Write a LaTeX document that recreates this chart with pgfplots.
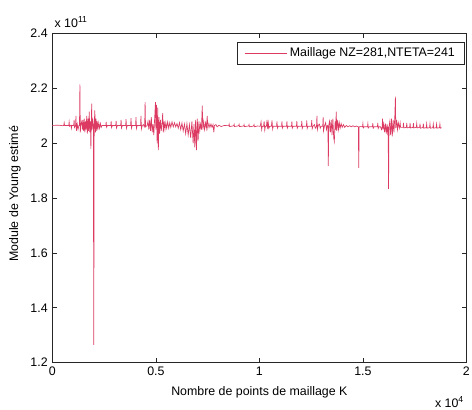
\documentclass[border=0pt]{standalone}
\usepackage{pgfplots}
\pgfplotsset{compat=1.18}
\usepackage{fontspec}
\setmainfont{Liberation Sans}
\definecolor{lc}{RGB}{220,58,98}
\newcommand{\fs}{\fontsize{9.4}{11}\selectfont}
\begin{document}
\begin{tikzpicture}[x=1pt,y=1pt]
\begin{axis}[name=ax, at={(0,0)}, anchor=south west, scale only axis,
  width=314.25pt, height=249.75pt,
  xmin=0, xmax=2, ymin=1.2, ymax=2.4,
  xtick={0,0.5,1,1.5,2}, ytick={1.2,1.4,1.6,1.8,2,2.2,2.4},
  tick align=inside, major tick length=3.5pt,
  axis line style={black!85, line width=0.6pt},
  every tick/.style={black!85, line width=0.5pt},
  tick label style={font=\fs},
  /pgf/number format/assume math mode=true,
  xlabel={Nombre de points de maillage K},
  ylabel={Module de Young estimé},
  every axis x label/.style={at={(axis description cs:0.5,-0.09)}, anchor=center, font=\fs},
  every axis y label/.style={at={(axis description cs:-0.0907,0.513)}, rotate=90, anchor=center, font=\fs},
  legend style={at={(axis description cs:1,1)}, anchor=north east, xshift=-1.5pt, yshift=-6pt,
    draw=black!85, line width=0.5pt, font=\fs, inner xsep=5pt, inner ysep=2.5pt},
  legend image code/.code={\draw[#1, draw=lc, line width=0.6pt] (0pt,0pt) -- (32pt,0pt);},
  clip=true,
]
\addplot[lc, line width=0.5pt] table {
0.000 2.065
0.030 2.066
0.050 2.064
0.055 2.065
0.057 2.075
0.059 2.065
0.079 2.065
0.081 2.078
0.083 2.062
0.090 2.066
0.092 2.055
0.094 2.065
0.103 2.065
0.105 2.085
0.107 2.058
0.112 2.065
0.114 2.100
0.116 2.045
0.120 2.070
0.124 2.050
0.128 2.065
0.131 2.065
0.133 2.215
0.135 2.040
0.137 2.065
0.142 2.080
0.145 2.050
0.148 2.085
0.151 2.045
0.154 2.090
0.157 2.040
0.160 2.080
0.163 2.050
0.166 2.100
0.169 2.035
0.172 2.090
0.175 2.045
0.178 2.115
0.181 2.040
0.184 2.080
0.186 1.980
0.188 2.070
0.190 2.145
0.192 2.050
0.195 2.090
0.198 2.060
0.200 1.265
0.202 2.060
0.205 2.120
0.208 2.040
0.211 2.090
0.214 2.045
0.217 2.080
0.220 2.050
0.224 2.075
0.228 2.055
0.232 2.072
0.236 2.058
0.240 2.065
0.258 2.065
0.260 2.078
0.262 2.058
0.266 2.065
0.282 2.065
0.284 2.080
0.286 2.057
0.290 2.065
0.306 2.065
0.308 2.082
0.310 2.056
0.314 2.065
0.330 2.065
0.332 2.085
0.334 2.056
0.338 2.065
0.354 2.065
0.356 2.088
0.358 2.055
0.362 2.065
0.378 2.065
0.380 2.092
0.382 2.055
0.386 2.065
0.402 2.065
0.404 2.095
0.406 2.054
0.410 2.065
0.426 2.065
0.428 2.100
0.430 2.052
0.434 2.065
0.440 2.068
0.444 2.060
0.446 2.065
0.448 2.150
0.450 2.060
0.458 2.065
0.462 2.080
0.466 2.050
0.470 2.085
0.474 2.045
0.478 2.095
0.482 2.040
0.486 2.070
0.490 2.030
0.494 2.090
0.498 2.150
0.500 2.050
0.503 2.140
0.506 2.000
0.509 2.130
0.512 1.975
0.515 2.095
0.518 2.035
0.522 2.085
0.526 2.045
0.530 2.075
0.533 2.110
0.536 2.040
0.540 2.080
0.544 2.050
0.548 2.075
0.552 2.055
0.557 2.078
0.562 2.055
0.567 2.075
0.572 2.058
0.578 2.078
0.584 2.060
0.590 2.075
0.596 2.060
0.602 2.072
0.608 2.055
0.614 2.075
0.620 2.050
0.626 2.074
0.632 2.045
0.638 2.070
0.644 2.035
0.650 2.072
0.656 2.030
0.662 2.068
0.668 2.020
0.674 2.080
0.680 2.000
0.684 2.070
0.688 1.985
0.692 2.085
0.696 1.975
0.700 2.090
0.704 2.010
0.708 2.080
0.712 2.045
0.716 2.070
0.720 2.050
0.724 2.137
0.727 2.050
0.731 2.080
0.735 2.050
0.740 2.075
0.744 2.055
0.748 2.100
0.751 2.055
0.756 2.072
0.761 2.058
0.766 2.070
0.771 2.058
0.776 2.068
0.780 2.040
0.783 2.065
0.790 2.068
0.796 2.060
0.805 2.066
0.815 2.061
0.830 2.065
0.852 2.064
0.854 2.070
0.856 2.061
0.876 2.064
0.878 2.069
0.880 2.061
0.900 2.064
0.902 2.069
0.904 2.061
0.924 2.063
0.926 2.068
0.928 2.061
0.948 2.063
0.950 2.068
0.952 2.060
0.972 2.063
0.974 2.068
0.976 2.060
0.990 2.063
1.004 2.062
1.008 2.078
1.011 2.050
1.014 2.062
1.020 2.062
1.023 2.080
1.026 2.048
1.029 2.062
1.034 2.062
1.037 2.085
1.040 2.052
1.043 2.075
1.046 2.055
1.050 2.062
1.058 2.062
1.061 2.083
1.064 2.052
1.067 2.062
1.083 2.062
1.085 2.080
1.087 2.055
1.091 2.062
1.107 2.062
1.109 2.080
1.111 2.055
1.115 2.062
1.131 2.062
1.133 2.080
1.135 2.055
1.139 2.062
1.155 2.062
1.157 2.080
1.159 2.055
1.163 2.062
1.179 2.062
1.181 2.081
1.183 2.055
1.187 2.062
1.203 2.062
1.205 2.082
1.207 2.054
1.211 2.062
1.227 2.062
1.229 2.083
1.231 2.054
1.235 2.062
1.251 2.062
1.253 2.084
1.255 2.053
1.259 2.062
1.266 2.068
1.270 2.055
1.276 2.062
1.278 2.100
1.280 2.050
1.284 2.065
1.290 2.070
1.294 2.055
1.298 2.062
1.306 2.062
1.308 2.095
1.310 2.045
1.314 2.062
1.320 2.075
1.324 2.050
1.328 2.065
1.331 2.062
1.333 1.918
1.335 2.065
1.339 2.080
1.343 2.040
1.347 2.085
1.351 2.030
1.355 2.090
1.359 2.020
1.362 2.007
1.366 2.080
1.369 2.050
1.371 2.115
1.374 2.045
1.378 2.085
1.382 2.050
1.386 2.075
1.390 2.055
1.395 2.072
1.400 2.058
1.406 2.068
1.412 2.058
1.420 2.065
1.428 2.060
1.436 2.064
1.444 2.060
1.452 2.064
1.460 2.060
1.468 2.063
1.478 2.060
1.480 1.910
1.482 2.060
1.490 2.061
1.498 2.060
1.500 2.072
1.502 2.056
1.506 2.060
1.522 2.060
1.524 2.072
1.526 2.056
1.530 2.060
1.546 2.060
1.548 2.073
1.550 2.055
1.554 2.060
1.570 2.060
1.572 2.074
1.574 2.054
1.578 2.060
1.585 2.060
1.590 2.050
1.593 2.060
1.595 2.090
1.597 2.050
1.601 2.070
1.605 2.040
1.609 2.072
1.613 2.035
1.617 2.070
1.620 2.030
1.622 2.060
1.624 1.834
1.626 2.060
1.630 2.080
1.634 2.030
1.638 2.090
1.642 2.025
1.646 2.085
1.650 2.040
1.654 2.095
1.657 2.170
1.659 2.055
1.663 2.085
1.667 2.050
1.671 2.075
1.676 2.055
1.680 2.074
1.682 2.058
1.694 2.058
1.696 2.074
1.698 2.056
1.710 2.058
1.712 2.074
1.714 2.056
1.726 2.058
1.728 2.073
1.730 2.056
1.742 2.058
1.744 2.073
1.746 2.056
1.758 2.058
1.760 2.072
1.762 2.056
1.774 2.058
1.776 2.072
1.778 2.055
1.790 2.058
1.792 2.072
1.794 2.055
1.806 2.057
1.808 2.071
1.810 2.055
1.822 2.057
1.824 2.071
1.826 2.055
1.838 2.057
1.840 2.070
1.842 2.055
1.854 2.057
1.856 2.070
1.858 2.055
1.870 2.057
1.872 2.070
1.874 2.055
1.880 2.057
};
\addlegendentry{Maillage NZ=281,NTETA=241}
\end{axis}
\node[anchor=base west, font=\fs, inner sep=0pt] at ([xshift=1.5pt, yshift=4.5pt]ax.north west) {x 10\textsuperscript{11}};
\node[anchor=base west, font=\fs, inner sep=0pt] at ([xshift=-24pt, yshift=-33.75pt]ax.south east) {x 10\textsuperscript{4}};
\pgfresetboundingbox
\path[use as bounding box] (-39.75,-35.25) rectangle (318.5,275.25);
\end{tikzpicture}
\end{document}
